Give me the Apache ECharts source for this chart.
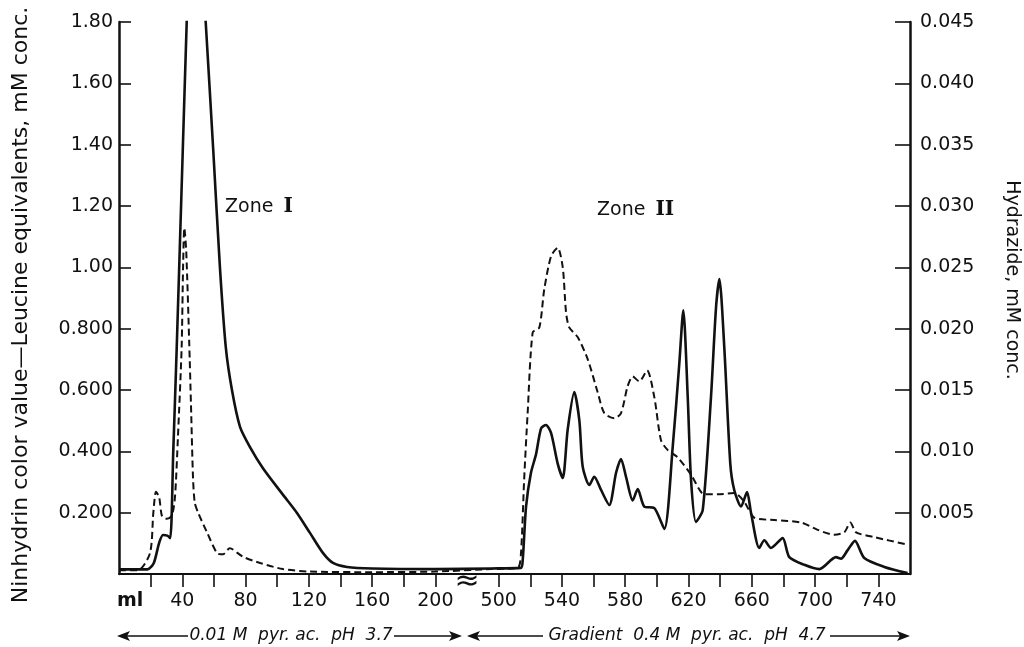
<!DOCTYPE html>
<html>
<head>
<meta charset="utf-8">
<title>Elution profile - Zone I / Zone II</title>
<script src="https://cdn.jsdelivr.net/npm/echarts@6/dist/echarts.min.js"></script>
<style>
  html, body { margin: 0; padding: 0; background: #fff; }
  #chart { width: 1024px; height: 647px; }
</style>
</head>
<body>
<div id="chart"></div>
<script>
// solid curve - ninhydrin colour value (leucine equivalents, mM), left axis
var ninMl = [0, 10, 18, 22, 25.3, 27.8, 30.5, 32.4, 34.3, 36.5, 40.3, 42.8, 47, 54.8, 59.6, 63.8, 67.5,
  71.4, 76.5, 82.8, 91, 103.7, 112.5, 120.7, 129, 135.3, 144.1, 160, 200,
  495, 514, 515.2, 517.3, 520.4, 523.6, 526.8, 529.9, 533.1, 537.3, 540.5, 543.6, 547.8, 551, 553.1,
  557.3, 560.4, 564.7, 569.9, 574.2, 577.3, 580.5, 584.7, 587.9, 592, 598.4, 604.7, 610, 614.2,
  616.7, 619.5, 621.6, 624.7, 629, 634.2, 637.4, 639.5, 642.6, 646.4, 648.9, 653.2, 657, 659.5,
  664.7, 667.9, 672.1, 679.5, 683.7, 693.2, 702.7, 713.2, 716.4, 720.6, 725.2, 731.1, 743.8, 758.5];
var ninVal = [0.015, 0.015, 0.015, 0.036, 0.10, 0.127, 0.125, 0.117, 0.40, 0.74, 1.38, 1.80, 2.45, 1.80, 1.38, 1.0, 0.74,
  0.60, 0.48, 0.414, 0.345, 0.258, 0.199, 0.134, 0.068, 0.036, 0.023, 0.018, 0.016,
  0.018, 0.02, 0.046, 0.22, 0.33, 0.39, 0.475, 0.486, 0.46, 0.36, 0.313, 0.47, 0.593, 0.50, 0.35,
  0.29, 0.317, 0.274, 0.225, 0.33, 0.375, 0.317, 0.24, 0.277, 0.22, 0.215, 0.147, 0.414, 0.688,
  0.86, 0.577, 0.306, 0.17, 0.209, 0.577, 0.87, 0.962, 0.74, 0.36, 0.274, 0.22, 0.267, 0.2,
  0.085, 0.11, 0.085, 0.117, 0.055, 0.03, 0.016, 0.055, 0.05, 0.078, 0.108, 0.052, 0.023, 0.003];

// dashed curve - hydrazide, mM, right axis
var hydMl = [0, 12, 19.6, 21.7, 23.4, 25.4, 27.2, 30.3, 33.5, 35.4, 37.3, 39.6, 40.5, 41.3, 42.5, 44.4,
  45.5, 46.8, 47.9, 50, 55.6, 62, 65.7, 70, 78.4, 89.2, 103.6, 120.7, 160, 200,
  495, 512, 514.1, 516.1, 518.3, 521.5, 525.7, 528.8, 533.1, 537.3, 540.5, 542.6, 544.6, 550, 556.3,
  562.6, 566.8, 573.1, 577.3, 581.5, 584.7, 588.9, 593.8, 598.4, 602.6, 606.9, 613.2, 621.6, 630,
  638.4, 648.9, 655.2, 661.5, 674.2, 691.1, 701.6, 712.2, 718.5, 722.3, 725.9, 737.5, 758.5];
var hydVal = [0.0003, 0.0003, 0.0017, 0.005, 0.0067, 0.00625, 0.0047, 0.0045, 0.0048, 0.0063, 0.0113, 0.0185, 0.025, 0.0282, 0.0263, 0.0188,
  0.0138, 0.0078, 0.0058, 0.005, 0.0034, 0.0017, 0.0016, 0.0021, 0.0014, 0.0009, 0.0004, 0.0002, 0.00015, 0.0002,
  0.0004, 0.0005, 0.0017, 0.0077, 0.0131, 0.0197, 0.0201, 0.0232, 0.0259, 0.0266, 0.025, 0.0213, 0.0201, 0.0193, 0.0175,
  0.0148, 0.0131, 0.0127, 0.0131, 0.0153, 0.0161, 0.0157, 0.0166, 0.0144, 0.0109, 0.0101, 0.0095, 0.0081, 0.0065,
  0.0065, 0.0066, 0.0059, 0.0046, 0.0044, 0.0042, 0.0036, 0.0032, 0.0034, 0.0042, 0.0034, 0.003, 0.0024];

// x axis (ml), broken between 220 and 480
var tickMl = [20, 40, 60, 80, 100, 120, 140, 160, 180, 200, 500, 520, 540, 560, 580, 600, 620, 640, 660, 680, 700, 720, 740];
var labelMl = [40, 80, 120, 160, 200, 500, 540, 580, 620, 660, 700, 740];

var BREAK_LO = 220, BREAK_HI = 480;
function pos(ml) { return ml <= BREAK_LO ? ml : ml - (BREAK_HI - BREAK_LO); }
function unpos(v) { return v <= BREAK_LO ? v : v + (BREAK_HI - BREAK_LO); }

var FONT = '"DejaVu Sans", sans-serif';
var INK = '#111';

var chart = echarts.init(document.getElementById('chart'));

function arrow(x1, x2, y) {
  // line from x1 to x2, head at x2
  var d = x2 > x1 ? 1 : -1;
  return [
    { type: 'line', shape: { x1: x1, y1: y, x2: x2 - d * 10, y2: y }, style: { stroke: INK, lineWidth: 1.6 } },
    { type: 'polygon', shape: { points: [[x2, y], [x2 - d * 13, y - 5], [x2 - d * 10, y], [x2 - d * 13, y + 5]] },
      style: { fill: INK } }
  ];
}

var graphics = [
  { type: 'text', x: 21, y: 305, rotation: Math.PI / 2,
    style: { text: 'Ninhydrin color value\u2014Leucine equivalents, mM conc.', font: '22px ' + FONT,
      fill: INK, align: 'center', verticalAlign: 'middle' } },
  { type: 'text', x: 1012, y: 280, rotation: -Math.PI / 2,
    style: { text: 'Hydrazide, mM conc.', font: '19px ' + FONT, fill: INK, align: 'center', verticalAlign: 'middle' } },
  { type: 'text', x: 117, y: 601,
    style: { text: 'ml', font: 'bold 19px ' + FONT, fill: INK, align: 'left', verticalAlign: 'middle' } },
  { type: 'text', x: 225, y: 207,
    style: { text: 'Zone {r|I}', font: '19px ' + FONT, fill: INK, align: 'left', verticalAlign: 'middle',
      rich: { r: { font: 'bold 20px "DejaVu Serif", serif', fill: INK, padding: [0, 0, 0, 4] } } } },
  { type: 'text', x: 597, y: 210,
    style: { text: 'Zone {r|II}', font: '19px ' + FONT, fill: INK, align: 'left', verticalAlign: 'middle',
      rich: { r: { font: 'bold 20px "DejaVu Serif", serif', fill: INK, padding: [0, 0, 0, 4] } } } },
  { type: 'text', x: 467, y: 582,
    style: { text: '\u2248', font: '30px ' + FONT, fill: INK, align: 'center', verticalAlign: 'middle' } },
  { type: 'text', x: 291, y: 636,
    style: { text: '0.01 M  pyr. ac.  pH  3.7', font: 'italic 17px ' + FONT, fill: INK, align: 'center', verticalAlign: 'middle' } },
  { type: 'text', x: 687, y: 636,
    style: { text: 'Gradient  0.4 M  pyr. ac.  pH  4.7', font: 'italic 17px ' + FONT, fill: INK, align: 'center', verticalAlign: 'middle' } }
];
graphics = graphics.concat(arrow(188, 117, 636), arrow(394, 462, 636), arrow(543, 467, 636), arrow(830, 910, 636));

var option = {
  backgroundColor: '#fff',
  animation: false,
  grid: { left: 119, right: 114, top: 22, bottom: 73, outerBoundsMode: 'none', containLabel: false },
  xAxis: {
    type: 'value', min: 0, max: pos(760), interval: 20,
    axisLine: { show: true, lineStyle: { color: INK, width: 2 } },
    axisTick: { show: true, inside: false, length: 13, lineStyle: { color: INK, width: 1.6 },
      customValues: tickMl.map(pos) },
    axisLabel: { show: true, margin: 18, color: INK, fontFamily: FONT, fontSize: 19,
      customValues: labelMl.map(pos),
      formatter: function (v) { return String(Math.round(unpos(v))); } },
    splitLine: { show: false }
  },
  yAxis: [
    {
      type: 'value', min: 0, max: 1.8, interval: 0.2, position: 'left',
      axisLine: { show: true, lineStyle: { color: INK, width: 2.5 } },
      axisTick: { show: true, inside: true, length: 12, lineStyle: { color: INK, width: 1.6 } },
      axisLabel: { margin: 6, color: INK, fontFamily: FONT, fontSize: 19,
        formatter: function (v) {
          if (v < 1e-9) return '';
          return v >= 0.999 ? v.toFixed(2) : v.toFixed(3);
        } },
      splitLine: { show: false }
    },
    {
      type: 'value', min: 0, max: 0.045, interval: 0.005, position: 'right',
      axisLine: { show: true, lineStyle: { color: INK, width: 2.5 } },
      axisTick: { show: true, inside: true, length: 15, lineStyle: { color: INK, width: 1.6 } },
      axisLabel: { margin: 10, color: INK, fontFamily: FONT, fontSize: 19,
        formatter: function (v) { return v < 1e-9 ? '' : v.toFixed(3); } },
      splitLine: { show: false }
    }
  ],
  series: [
    {
      name: 'Ninhydrin', type: 'line', yAxisIndex: 0, showSymbol: false, smooth: 0.25, clip: true,
      lineStyle: { color: INK, width: 2.6 },
      data: ninMl.map(function (m, i) { return [pos(m), ninVal[i]]; })
    },
    {
      name: 'Hydrazide', type: 'line', yAxisIndex: 1, showSymbol: false, smooth: 0.25, clip: true,
      lineStyle: { color: INK, width: 2, type: [7, 4] },
      data: hydMl.map(function (m, i) { return [pos(m), hydVal[i]]; })
    }
  ],
  graphic: graphics
};

chart.setOption(option);
</script>
</body>
</html>
